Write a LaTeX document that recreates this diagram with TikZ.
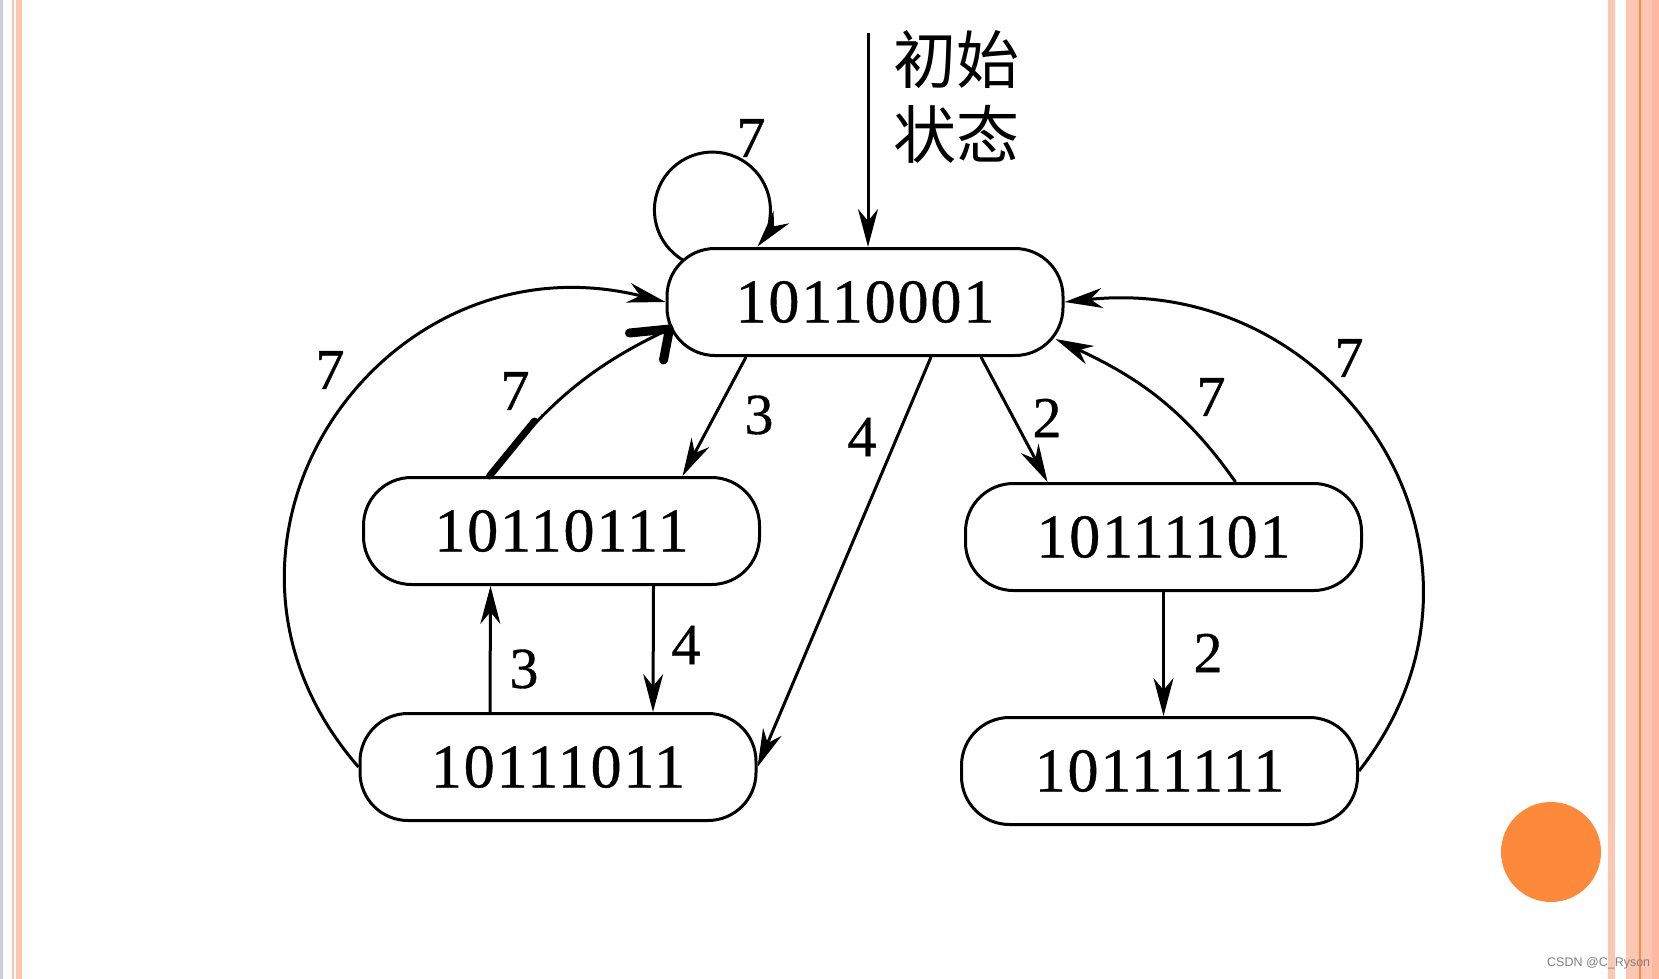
\documentclass[tikz,border=0pt]{standalone}
\usepackage{fontspec}
\setmainfont{Liberation Serif}
\newfontfamily\digfont[LetterSpace=3,FakeBold=0.6]{Liberation Serif}
\newfontfamily\cjk{Noto Sans CJK SC}
\newfontfamily\wmfont{Liberation Sans}
\usetikzlibrary{arrows.meta,calc}
\definecolor{peach}{RGB}{253,198,178}
\definecolor{peachdark}{RGB}{251,185,160}
\definecolor{orangeA}{RGB}{253,138,58}
\definecolor{edgegray}{RGB}{200,208,216}
\begin{document}
\begin{tikzpicture}[x=1pt,y=1pt,
  state/.style={draw, line width=3pt, rectangle, rounded corners=48pt,
    minimum width=396pt, minimum height=107pt, inner sep=0pt,
    font=\digfont\fontsize{62}{62}\selectfont},
  conn/.style={line width=3pt, -{Stealth[length=38pt,width=20pt,inset=12pt]}},
  lab/.style={inner sep=0pt, font=\digfont\fontsize{58}{58}\selectfont},
]
\useasboundingbox (0,0) rectangle (1659,-979);
\fill[white] (0,0) rectangle (1659,-979);
% decorative stripes
\fill[edgegray] (0,0) rectangle (2.5,-979);
\fill[peach] (12,0) rectangle (14,-979);
\fill[peach] (16,0) rectangle (22,-979);
\fill[peach] (1608,0) rectangle (1615,-979);
\fill[peach] (1626,0) rectangle (1639,-979);
\fill[orangeA] (1639,0) rectangle (1641,-979);
\fill[peach] (1641,0) rectangle (1652,-979);
\fill[peachdark] (1652,0) rectangle (1659,-979);
\fill[orangeA] (1551,-852) circle (50);
\node[text=gray, font=\wmfont\fontsize{12.5}{12.5}\selectfont, anchor=west, inner sep=0pt] (wm) at (1547,-963) {CSDN @C\_Ryson};

% states
\node[state] (A) at (865,-302) {10110001};
\node[state] (B) at (561.5,-531) {10110111};
\node[state] (C) at (558,-767) {10111011};
\node[state] (D) at (1163.5,-537) {10111101};
\node[state] (E) at (1159.5,-771) {10111111};

% initial state
\coordinate (init) at (868,-33);
\node[anchor=west, inner sep=0pt, align=left, font=\cjk\fontsize{63}{75}\selectfont] (initlbl) at (893,-97) {初始\\状态};
\draw[conn] (init) -- ([xshift=3pt]A.north);

% self loop
\draw[conn] ([xshift=-181.6pt,yshift=-13.3pt]A.north) arc[start angle=240, end angle=-39, radius=58];

% A -> B, A -> C, A -> D
\draw[conn] ([xshift=-119pt]A.south) -- ([xshift=121pt]B.north);
\draw[conn] ([xshift=66pt]A.south) -- (C.east);
\draw[conn] ([xshift=116pt]A.south) -- ([xshift=-116pt]D.north);

% B <-> C
\draw[conn] ([xshift=92pt]B.south) -- ([xshift=95pt]C.north);
\draw[conn] ([xshift=-68pt]C.north) -- ([xshift=-71pt]B.south);

% D -> E
\draw[conn] ([xshift=0pt]D.south) -- ([xshift=4pt]E.north);

% D -> A
\draw[conn] ([xshift=72pt]D.north) to[out=125,in=-25] ($(A.east)+(-9,-37)$);

% outer edges
\draw[conn] (C.west) to[out=131,in=166,looseness=1.35] (A.west);
\draw[conn] (E.east) to[out=52,in=6,looseness=1.27] (A.east);

% B -> A (with hand-drawn bold marks)
\coordinate (tipBA) at ($(A.west)+(4,-27)$);
\draw[line width=3pt] ([xshift=-72pt]B.north) to[out=51,in=205] (tipBA);
\draw[line width=7pt, line cap=round] ([xshift=-72pt]B.north) -- ++(50.7:71);
\draw[line width=9pt, line cap=round, line join=round] ($(tipBA)+(-40,-4)$) -- (tipBA) -- ($(tipBA)+(-6,-31)$);

% labels
\node[lab] (l1) at (751,-138) {7};
\node[lab] (l2) at (330,-370) {7};
\node[lab] (l3) at (515,-391) {7};
\node[lab] (l4) at (759,-415) {3};
\node[lab] (l5) at (862,-437) {4};
\node[lab] (l6) at (1047,-418) {2};
\node[lab] (l7) at (1211,-397) {7};
\node[lab] (l8) at (1349,-358) {7};
\node[lab] (l9) at (524,-669) {3};
\node[lab] (l10) at (686,-645) {4};
\node[lab] (l11) at (1208,-653) {2};
\end{tikzpicture}
\end{document}
